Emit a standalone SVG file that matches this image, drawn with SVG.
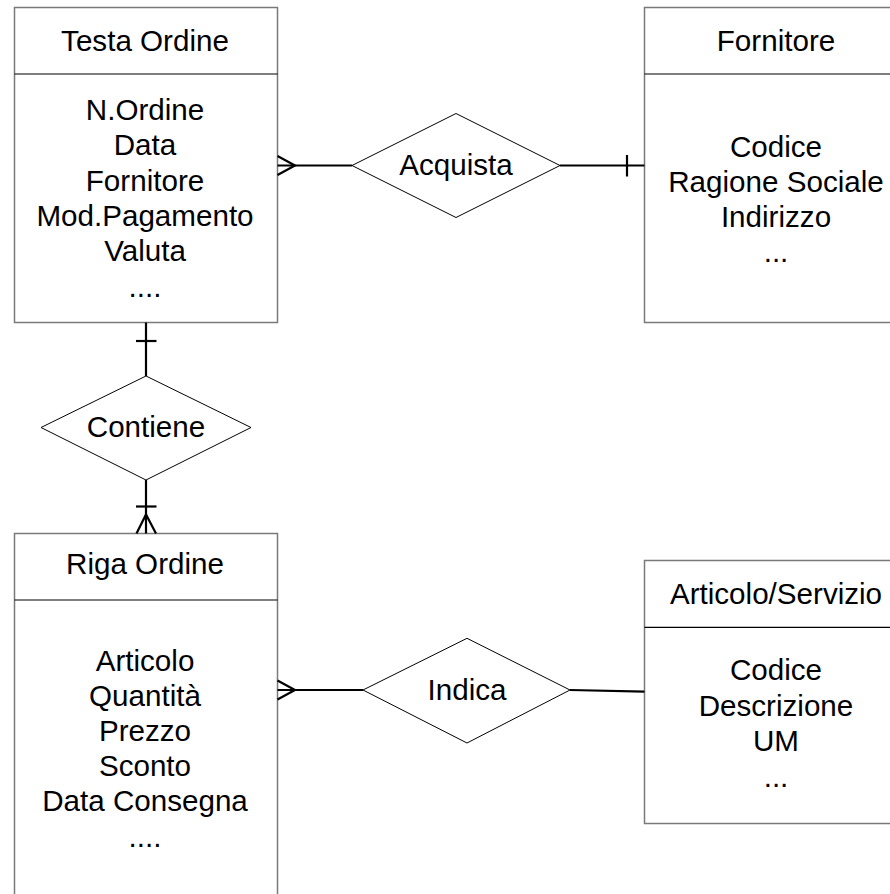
<svg xmlns="http://www.w3.org/2000/svg" width="890" height="894" viewBox="0 0 890 894">
  <style>
    .box { fill: #ffffff; stroke: #7a7a7a; stroke-width: 1.5; }
    .sep { stroke: #000000; stroke-width: 1.2; }
    .rel { fill: #ffffff; stroke: #000000; stroke-width: 1; }
    .txt { font-family: "Liberation Sans", Arial, sans-serif; font-size: 29.6px; fill: #000000; text-anchor: middle; }
    .conn { stroke: #000000; stroke-width: 2.2; fill: none; }
  </style>
  <rect width="890" height="894" fill="#ffffff"/>

  <!-- Entity: Testa Ordine -->
  <g id="testa-ordine">
    <rect class="box" x="14.5" y="7.5" width="263" height="315"/>
    <line class="sep" x1="14.5" y1="74" x2="277.5" y2="74"/>
    <text class="txt" x="145" y="51">Testa Ordine</text>
    <text class="txt" x="145" y="120">N.Ordine</text>
    <text class="txt" x="145" y="155.3">Data</text>
    <text class="txt" x="145" y="190.6">Fornitore</text>
    <text class="txt" x="145" y="225.9">Mod.Pagamento</text>
    <text class="txt" x="145" y="261.2">Valuta</text>
    <text class="txt" x="145" y="297">....</text>
  </g>

  <!-- Entity: Fornitore -->
  <g id="fornitore">
    <rect class="box" x="644.5" y="7.5" width="264" height="315"/>
    <line class="sep" x1="644.5" y1="74" x2="908" y2="74"/>
    <text class="txt" x="776" y="51">Fornitore</text>
    <text class="txt" x="776" y="156.5">Codice</text>
    <text class="txt" x="776" y="191.8">Ragione Sociale</text>
    <text class="txt" x="776" y="227">Indirizzo</text>
    <text class="txt" x="776" y="262">...</text>
  </g>

  <!-- Entity: Riga Ordine -->
  <g id="riga-ordine">
    <rect class="box" x="14.5" y="533.5" width="263" height="380"/>
    <line class="sep" x1="14.5" y1="600" x2="277.5" y2="600"/>
    <text class="txt" x="145" y="573.5">Riga Ordine</text>
    <text class="txt" x="145" y="670.7">Articolo</text>
    <text class="txt" x="145" y="705.7">Quantità</text>
    <text class="txt" x="145" y="740.7">Prezzo</text>
    <text class="txt" x="145" y="775.7">Sconto</text>
    <text class="txt" x="145" y="810.7">Data Consegna</text>
    <text class="txt" x="145" y="847">....</text>
  </g>

  <!-- Entity: Articolo/Servizio -->
  <g id="articolo-servizio">
    <rect class="box" x="644.5" y="560.5" width="264" height="263"/>
    <line class="sep" x1="644.5" y1="627.3" x2="908" y2="627.3"/>
    <text class="txt" x="776" y="603.5">Articolo/Servizio</text>
    <text class="txt" x="776" y="680">Codice</text>
    <text class="txt" x="776" y="715.5">Descrizione</text>
    <text class="txt" x="776" y="750.7">UM</text>
    <text class="txt" x="776" y="787">...</text>
  </g>

  <!-- Relationship: Acquista -->
  <g id="acquista">
    <polygon class="rel" points="352,165.5 456,113.5 560,165.5 456,217.5"/>
    <text class="txt" x="456" y="174.5">Acquista</text>
  </g>

  <!-- Relationship: Contiene -->
  <g id="contiene">
    <polygon class="rel" points="41,427.5 146,376 251,427.5 146,480"/>
    <text class="txt" x="146" y="437">Contiene</text>
  </g>

  <!-- Relationship: Indica -->
  <g id="indica">
    <polygon class="rel" points="363,690 467,638.3 570,690 467,743"/>
    <text class="txt" x="467" y="699.5">Indica</text>
  </g>

  <!-- Connectors with cardinality marks -->
  <g id="connectors">
    <!-- Testa Ordine (many) - Acquista -->
    <line class="conn" x1="277.5" y1="165.5" x2="352" y2="165.5"/>
    <polyline class="conn" points="277.5,156 295,165.5 277.5,175"/>
    <!-- Acquista - Fornitore (one) -->
    <line class="conn" x1="560" y1="165.5" x2="644.5" y2="165.5"/>
    <line class="conn" x1="627" y1="155" x2="627" y2="176.5"/>
    <!-- Testa Ordine (one) - Contiene -->
    <line class="conn" x1="146" y1="322.5" x2="146" y2="376"/>
    <line class="conn" x1="136" y1="341" x2="156.5" y2="341"/>
    <!-- Contiene - Riga Ordine (one or many) -->
    <line class="conn" x1="146" y1="480" x2="146" y2="533.5"/>
    <line class="conn" x1="136" y1="506.5" x2="156.5" y2="506.5"/>
    <polyline class="conn" points="136.5,533.5 146,514.5 156,533.5"/>
    <!-- Riga Ordine (many) - Indica -->
    <line class="conn" x1="277.5" y1="690" x2="363" y2="690"/>
    <polyline class="conn" points="277.5,680.5 295,690 277.5,699.5"/>
    <!-- Indica - Articolo/Servizio -->
    <line class="conn" x1="570" y1="690" x2="644.5" y2="691.7"/>
  </g>
</svg>
